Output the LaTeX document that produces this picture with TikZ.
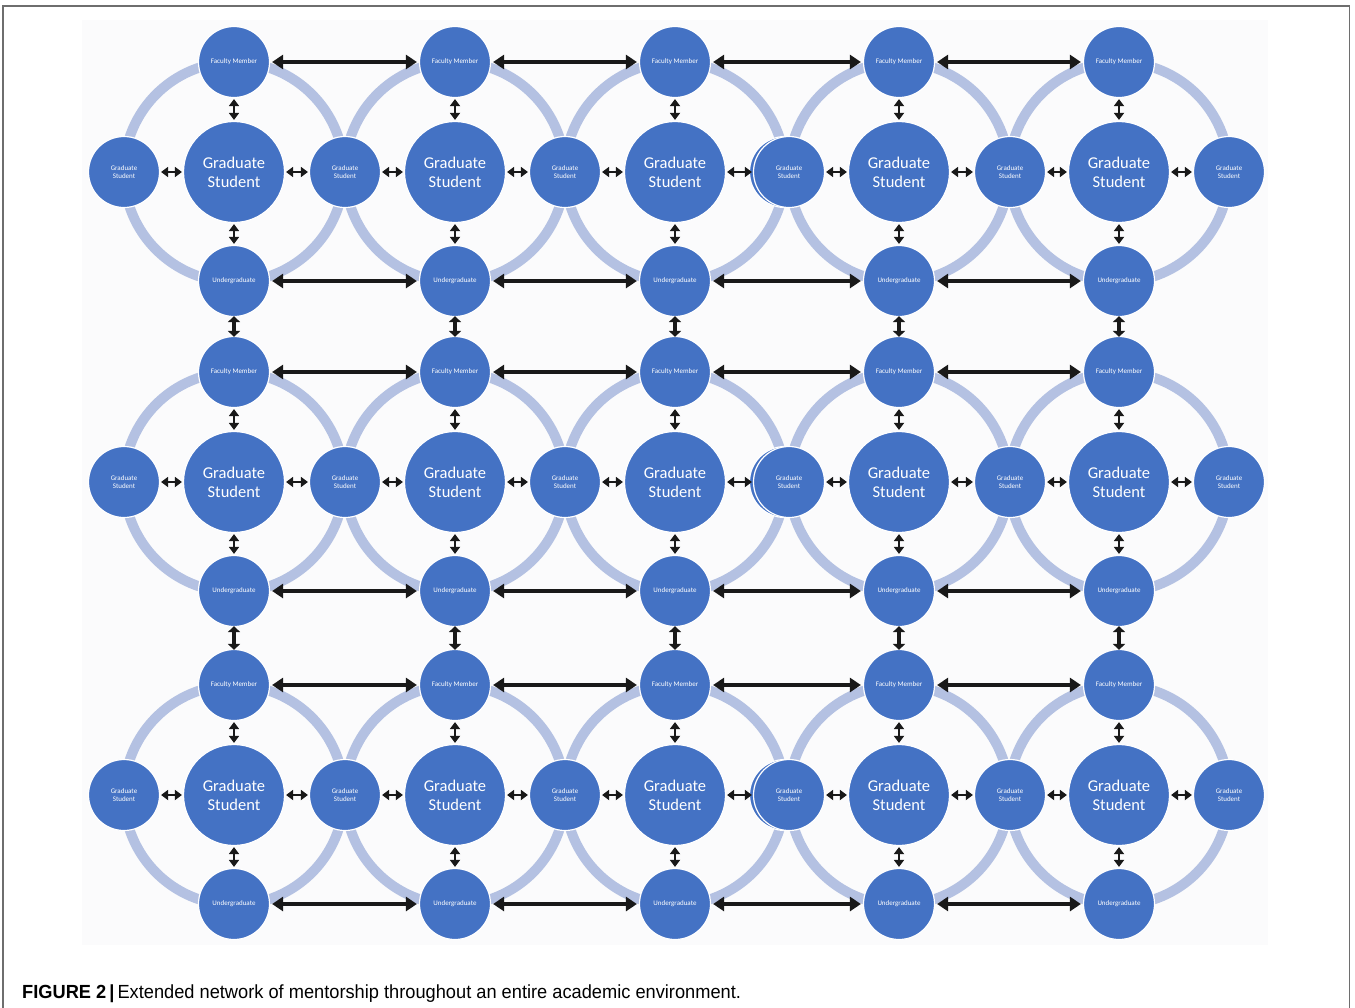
\documentclass[tikz,border=0pt]{standalone}
\usepackage{fontspec}
\setmainfont{Carlito}
\newfontfamily\capfont{Liberation Sans}
\usetikzlibrary{arrows.meta}
\definecolor{nodeblue}{RGB}{68,114,196}
\definecolor{ringblue}{RGB}{180,193,226}
\definecolor{framegray}{RGB}{110,110,110}
\definecolor{bgfill}{RGB}{251,251,252}
\begin{document}
\begin{tikzpicture}[x=1pt,y=-1pt,
  bignode/.style={circle,fill=nodeblue,draw=white,line width=1.2pt,minimum size=101pt,inner sep=0pt,text=white,align=center,font=\fontsize{16.5}{19}\selectfont},
  smallnode/.style={circle,fill=nodeblue,draw=white,line width=1.2pt,minimum size=71pt,inner sep=0pt,text=white,align=center,font=\fontsize{7}{7.6}\selectfont},
  ringpath/.style={draw=ringblue,line width=10pt},
  longarrow/.style={{Triangle[length=11pt,width=14pt]}-{Triangle[length=11pt,width=14pt]},line width=3.5pt,draw=black!90,shorten <=2pt,shorten >=2pt},
  shortarrow/.style={{Triangle[length=7pt,width=10pt]}-{Triangle[length=7pt,width=10pt]},line width=2.8pt,draw=black!90,shorten <=1pt,shorten >=1pt},
  rowarrow/.style={{Triangle[length=6pt,width=12pt]}-{Triangle[length=6pt,width=12pt]},line width=4.2pt,draw=black!90,shorten <=-1pt,shorten >=-1pt}
]
\useasboundingbox (0,0) rectangle (1355,1007);
\fill[white] (0,0) rectangle (1355,1007);
\fill[bgfill] (82,20) rectangle (1268,945);
\draw[framegray,line width=1.5pt] (3,1012) -- (3,6) -- (1349.5,6) -- (1349.5,1012);

% rings
\foreach \r/\yc in {1/172,2/482,3/795}{
  \foreach \c/\xc in {1/234,2/455,3/675,4/899,5/1119}{
    \draw[ringpath] (\xc,\yc) circle[radius=110];
  }
}

% nodes
\foreach \r/\yc in {1/172,2/482,3/795}{
  \pgfmathsetmacro{\yf}{\yc-110}
  \pgfmathsetmacro{\yu}{\yc+109}
  \foreach \c/\xc in {1/234,2/455,3/675,4/899,5/1119}{
    \node[bignode] (G-\r-\c) at (\xc,\yc) {Graduate\\Student};
    \node[smallnode] (F-\r-\c) at (\xc,\yf) {Faculty Member};
    \node[smallnode] (U-\r-\c) at (\xc,\yu) {Undergraduate};
  }
  \node[smallnode] (SX-\r) at (785,\yc) {};
  \foreach \k/\xs in {0/124,1/345,2/565,3/789,4/1010,5/1229}{
    \node[smallnode] (S-\r-\k) at (\xs,\yc) {Graduate\\Student};
  }
}

% arrows
\foreach \r in {1,2,3}{
  \foreach \c in {1,...,5}{
    \pgfmathtruncatemacro{\kl}{\c-1}
    \draw[shortarrow] (F-\r-\c) -- (G-\r-\c);
    \draw[shortarrow] (G-\r-\c) -- (U-\r-\c);
    \draw[shortarrow] (S-\r-\kl) -- (G-\r-\c);
    \draw[shortarrow] (G-\r-\c) -- (S-\r-\c);
  }
  \foreach \c in {1,...,4}{
    \pgfmathtruncatemacro{\cn}{\c+1}
    \draw[longarrow] (F-\r-\c) -- (F-\r-\cn);
    \draw[longarrow] (U-\r-\c) -- (U-\r-\cn);
  }
}
\foreach \r in {1,2}{
  \pgfmathtruncatemacro{\rn}{\r+1}
  \foreach \c in {1,...,5}{
    \draw[rowarrow] (U-\r-\c) -- (F-\rn-\c);
  }
}

\node[anchor=base west,inner sep=0pt] (cap) at (22,998)
  {\scalebox{0.96}[1]{\capfont\fontsize{19}{22}\selectfont\textbf{FIGURE 2}\,\textbf{|}\,Extended network of mentorship throughout an entire academic environment.}};
\end{tikzpicture}
\end{document}
